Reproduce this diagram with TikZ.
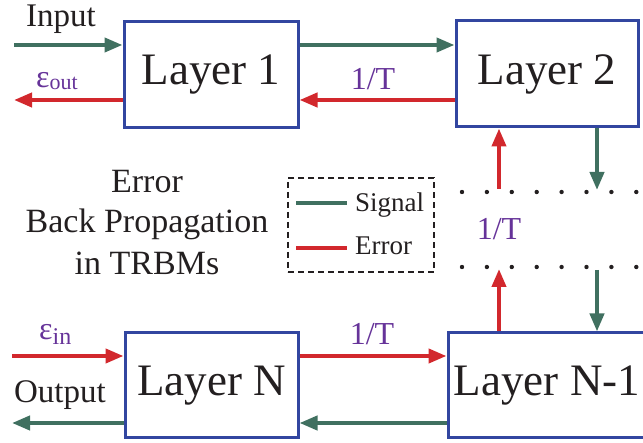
\documentclass[tikz,border=0pt]{standalone}
\usepackage{fontspec}
\setmainfont{Liberation Serif}
\usetikzlibrary{arrows.meta}
\definecolor{sigc}{RGB}{64,112,96}
\definecolor{errc}{RGB}{210,40,45}
\definecolor{boxc}{RGB}{50,70,160}
\definecolor{labc}{RGB}{102,51,153}
\definecolor{txtc}{RGB}{35,31,32}
\tikzset{
  layer/.style={draw=boxc, line width=3pt, fill=white, inner sep=0pt, text=txtc,
    font=\fontsize{45}{50}\selectfont},
  sig/.style={draw=sigc, line width=4pt, -{Triangle[length=18pt,width=14pt]}},
  err/.style={draw=errc, line width=4pt, -{Triangle[length=18pt,width=14pt]}},
  lab/.style={text=labc, font=\fontsize{32}{36}\selectfont, inner sep=0pt, anchor=base},
  txt/.style={text=txtc, font=\fontsize{33}{36}\selectfont, inner sep=0pt, anchor=base},
  ttl/.style={text=txtc, font=\fontsize{34}{38}\selectfont, inner sep=0pt, anchor=base},
  leg/.style={text=txtc, font=\fontsize{27}{30}\selectfont, inner sep=0pt, anchor=base west},
  dotc/.style={fill=txtc},
}
\begin{document}
\begin{tikzpicture}[x=1pt,y=-1pt]
\useasboundingbox (0,0) rectangle (643,443);
\clip (0,0) rectangle (643,443);
% layers
\node[layer, minimum width=174pt, minimum height=106pt] (L1) at (211,75) {Layer 1};
\node[layer, minimum width=182pt, minimum height=106pt] (L2) at (547,74) {Layer 2};
\node[layer, minimum width=173pt, minimum height=105pt] (LN) at (211.5,385.5) {Layer N};
\node[layer, minimum width=198pt, minimum height=105pt] (LN1) at (547,385.5) {Layer N-1};
% top connectors
\coordinate (inS) at (14,45);
\coordinate (outE) at (14,100);
\draw[sig] (inS) -- (inS -| L1.west);
\draw[sig] (inS -| L1.east) -- (inS -| L2.west);
\draw[err] (outE -| L2.west) -- (outE -| L1.east);
\draw[err] (outE -| L1.west) -- (outE);
% vertical connectors
\coordinate (u1) at (499,189);
\coordinate (d1) at (597,190);
\coordinate (u2) at (499,269);
\coordinate (d2) at (597,270);
\draw[err] (u1) -- (u1 |- L2.south);
\draw[sig] (d1 |- L2.south) -- (d1);
\draw[err] (u2 |- LN1.north) -- (u2);
\draw[sig] (d2) -- (d2 |- LN1.north);
% dots
\foreach \k in {0,...,7} {
  \fill[dotc] (462+24.9*\k,192) circle (2.2pt);
  \fill[dotc] (462+24.9*\k,267) circle (2.2pt);
}
% bottom connectors
\coordinate (einS) at (12,356);
\coordinate (outS) at (12,423);
\draw[err] (einS) -- (einS -| LN.west);
\draw[err] (einS -| LN.east) -- (einS -| LN1.west);
\draw[sig] (outS -| LN1.west) -- (outS -| LN.east);
\draw[sig] (outS -| LN.west) -- (outS);
% labels
\node[txt] (tin) at (61,27) {Input};
\node[txt] (tout) at (60,403) {Output};
\node[lab, anchor=base west] (eout) at (36,88) {ε\raisebox{-2pt}{\fontsize{22}{22}\selectfont out}};
\node[lab, anchor=base west] (ein) at (39,340) {ε\raisebox{-5pt}{\fontsize{24}{24}\selectfont in}};
\node[lab] (t1) at (373,90) {1/T};
\node[lab] (t2) at (499,240) {1/T};
\node[lab] (t3) at (372,345) {1/T};
% title
\node[ttl] (e1) at (147,193) {Error};
\node[ttl] (e2) at (147,233) {Back Propagation};
\node[ttl] (e3) at (147,275) {in TRBMs};
% legend
\node[draw=txtc, dashed, dash pattern=on 6pt off 4pt, line width=2pt, minimum width=146pt, minimum height=94pt, inner sep=0pt] (legbox) at (361,225) {};
\coordinate (ls) at (296,203);
\coordinate (le) at (296,248);
\draw[draw=sigc, line width=4pt] (ls) -- ++(51,0);
\draw[draw=errc, line width=4pt] (le) -- ++(51,0);
\node[leg] (lsig) at (355,212) {Signal};
\node[leg] (lerr) at (355,255) {Error};
\end{tikzpicture}
\end{document}
